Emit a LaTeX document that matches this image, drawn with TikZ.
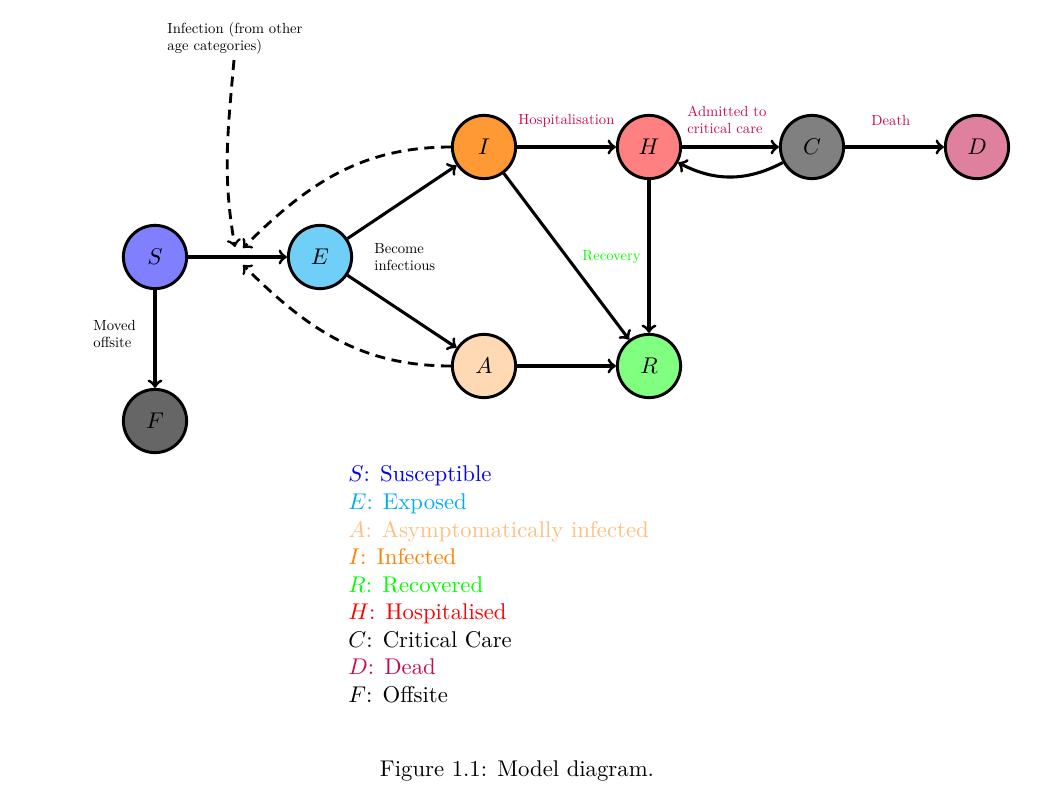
\documentclass[tikz,border=0pt]{standalone}
\usetikzlibrary{arrows}
\definecolor{colS}{RGB}{0,0,255}
\definecolor{colE}{RGB}{0,174,239}
\definecolor{colA}{RGB}{255,190,128}
\definecolor{colI}{RGB}{255,128,0}
\definecolor{colR}{RGB}{0,255,0}
\definecolor{colH}{RGB}{255,0,0}
\definecolor{colD}{RGB}{200,10,80}
\definecolor{fillS}{RGB}{128,128,255}
\definecolor{fillE}{RGB}{111,207,246}
\definecolor{fillA}{RGB}{255,217,179}
\definecolor{fillI}{RGB}{255,153,51}
\definecolor{fillH}{RGB}{255,128,128}
\definecolor{fillC}{RGB}{128,128,128}
\definecolor{fillD}{RGB}{223,128,159}
\definecolor{fillR}{RGB}{128,255,128}
\definecolor{fillF}{RGB}{102,102,102}
\newcommand\smalltxt[1]{\scalebox{0.645}{\begin{tabular}[t]{@{}l@{}}#1\end{tabular}}}
\begin{document}
\begin{tikzpicture}[x=0.43956pt,y=0.43956pt,
  state/.style={circle,draw=black,line width=1.3pt,minimum size=27.8pt,inner sep=0pt},
  flow/.style={->,line width=1.35pt},
  infl/.style={->,line width=1.25pt,dash pattern=on 4.4pt off 2.9pt},
  lbl/.style={inner sep=0pt,anchor=base west},
  leg/.style={inner sep=0pt,anchor=base west}]
\useasboundingbox (0,0) rectangle (1054,-812);
\node[state,fill=fillS] (S) at (155,-257) {$S$};
\node[state,fill=fillE] (E) at (320,-257) {$E$};
\node[state,fill=fillI] (I) at (484,-147) {$I$};
\node[state,fill=fillH] (H) at (649,-147) {$H$};
\node[state,fill=fillC] (C) at (812,-147) {$C$};
\node[state,fill=fillD] (D) at (977,-147) {$D$};
\node[state,fill=fillA] (A) at (484,-366) {$A$};
\node[state,fill=fillR] (R) at (649,-366) {$R$};
\node[state,fill=fillF] (F) at (155,-421) {$F$};
\coordinate (m1) at (243,-248);
\coordinate (m2) at (235,-247);
\coordinate (m3) at (243,-265);
\node[lbl] (inf) at (167,-33) {\smalltxt{Infection (from other\\age categories)}};
\node[lbl] (become) at (374,-253) {\smalltxt{Become\\infectious}};
\node[lbl] (moved) at (93,-330) {\smalltxt{Moved\\offsite}};
\node[lbl,text=colD] (hosp) at (518,-124) {\smalltxt{Hospitalisation}};
\node[lbl,text=colD] (adm) at (687,-116) {\smalltxt{Admitted to\\critical care}};
\node[lbl,text=colD] (death) at (871,-125) {\smalltxt{Death}};
\node[lbl,text=colR] (rec) at (582,-260) {\smalltxt{Recovery}};
\coordinate (infs) at (234,-60);
\draw[flow] (S) -- (E);
\draw[flow] (E) -- (I);
\draw[flow] (E) -- (A);
\draw[flow] (I) -- (H);
\draw[flow] (H) -- (C);
\draw[flow] (C) -- (D);
\draw[flow] (I) -- (R);
\draw[flow] (H) -- (R);
\draw[flow] (A) -- (R);
\draw[flow] (S) -- (F);
\draw[flow] (C) to[bend left=28] (H);
\draw[infl] (I.west) to[out=180,in=45] (m1);
\draw[infl] (A.west) to[out=180,in=-45] (m3);
\draw[infl] (infs) to[out=-95,in=100] (m2);
\node[leg] (lS) at (348,-481.7) {\textcolor{colS}{$S$: Susceptible}};
\node[leg] (lE) at (348,-509.3) {\textcolor{colE}{$E$: Exposed}};
\node[leg] (lA) at (348,-537) {\textcolor{colA}{$A$: Asymptomatically infected}};
\node[leg] (lI) at (348,-564.5) {\textcolor{colI}{$I$: Infected}};
\node[leg] (lR) at (348,-592) {\textcolor{colR}{$R$: Recovered}};
\node[leg] (lH) at (348,-619.7) {\textcolor{colH}{$H$: Hospitalised}};
\node[leg] (lC) at (348,-647) {$C$: Critical Care};
\node[leg] (lD) at (348,-674.7) {\textcolor{colD}{$D$: Dead}};
\node[leg] (lF) at (348,-702.3) {$F$: Offsite};
\node[leg] (cap) at (379.5,-776) {Figure 1.1: Model diagram.};
\end{tikzpicture}
\end{document}
